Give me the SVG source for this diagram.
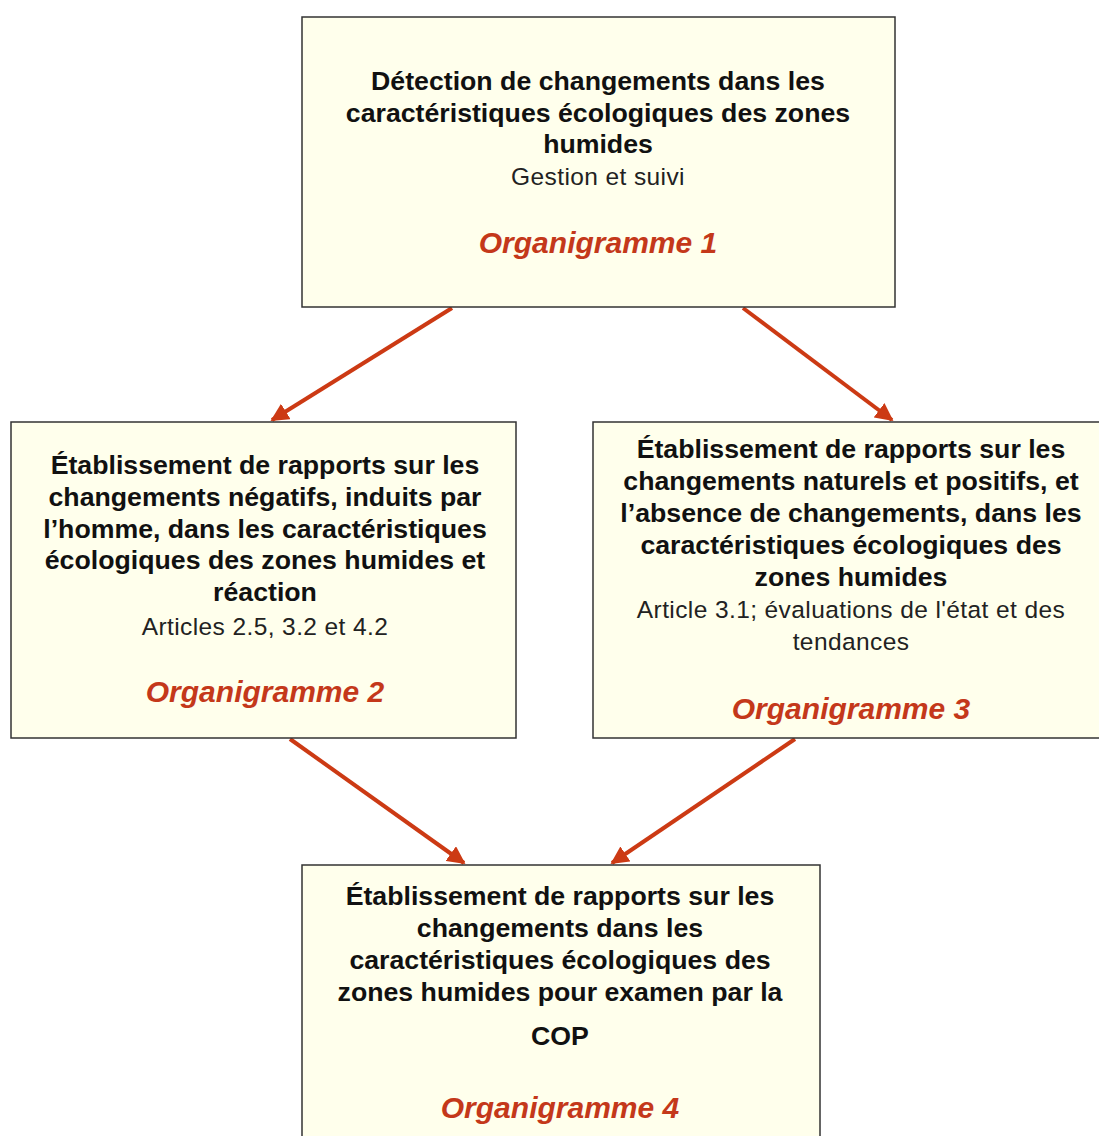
<svg xmlns="http://www.w3.org/2000/svg" width="1099" height="1136" viewBox="0 0 1099 1136">
<style>
.box{fill:#FFFFEC;stroke:#333;stroke-width:1.5}
.t{font-family:"Liberation Sans",Arial,sans-serif;font-weight:bold;font-size:26.7px;fill:#111;text-anchor:middle}
.s{font-family:"Liberation Sans",Arial,sans-serif;font-size:24.5px;letter-spacing:0.4px;fill:#222;text-anchor:middle}
.o{font-family:"Liberation Sans",Arial,sans-serif;font-weight:bold;font-style:italic;font-size:30px;fill:#C4381A;text-anchor:middle}
.c{stroke:#CC3A14;stroke-width:4;fill:none}
</style>
<defs>
<marker id="ah" viewBox="0 0 10 10" refX="9" refY="5" markerWidth="4.5" markerHeight="4.5" orient="auto" markerUnits="strokeWidth">
<path d="M0,0 L10,5 L0,10 z" fill="#CC3A14"/>
</marker>
</defs>
<rect width="1099" height="1136" fill="#fff"/>
<g id="connectors">
<line class="c" x1="452" y1="308" x2="272" y2="420" marker-end="url(#ah)"/>
<line class="c" x1="743" y1="308" x2="892" y2="420" marker-end="url(#ah)"/>
<line class="c" x1="290" y1="739" x2="464" y2="863" marker-end="url(#ah)"/>
<line class="c" x1="795" y1="739" x2="612" y2="863" marker-end="url(#ah)"/>
</g>
<g id="node1">
<rect class="box" x="302" y="17" width="593" height="290"/>
<text class="t" x="598" y="90">Détection de changements dans les</text>
<text class="t" x="598" y="122">caractéristiques écologiques des zones</text>
<text class="t" x="598" y="153">humides</text>
<text class="s" x="598" y="185">Gestion et suivi</text>
<text class="o" x="598" y="253">Organigramme 1</text>
</g>
<g id="node2">
<rect class="box" x="11" y="422" width="505" height="316"/>
<text class="t" x="265" y="474">Établissement de rapports sur les</text>
<text class="t" x="265" y="506">changements négatifs, induits par</text>
<text class="t" x="265" y="538">l’homme, dans les caractéristiques</text>
<text class="t" x="265" y="569">écologiques des zones humides et</text>
<text class="t" x="265" y="601">réaction</text>
<text class="s" x="265" y="635">Articles 2.5, 3.2 et 4.2</text>
<text class="o" x="265" y="702">Organigramme 2</text>
</g>
<g id="node3">
<rect class="box" x="593" y="422" width="510" height="316"/>
<text class="t" x="851" y="458">Établissement de rapports sur les</text>
<text class="t" x="851" y="490">changements naturels et positifs, et</text>
<text class="t" x="851" y="522">l’absence de changements, dans les</text>
<text class="t" x="851" y="554">caractéristiques écologiques des</text>
<text class="t" x="851" y="586">zones humides</text>
<text class="s" x="851" y="618">Article 3.1; évaluations de l'état et des</text>
<text class="s" x="851" y="650">tendances</text>
<text class="o" x="851" y="719">Organigramme 3</text>
</g>
<g id="node4">
<rect class="box" x="302" y="865" width="518" height="280"/>
<text class="t" x="560" y="905">Établissement de rapports sur les</text>
<text class="t" x="560" y="937">changements dans les</text>
<text class="t" x="560" y="969">caractéristiques écologiques des</text>
<text class="t" x="560" y="1001">zones humides pour examen par la</text>
<text class="t" x="560" y="1045">COP</text>
<text class="o" x="560" y="1118">Organigramme 4</text>
</g>
</svg>
